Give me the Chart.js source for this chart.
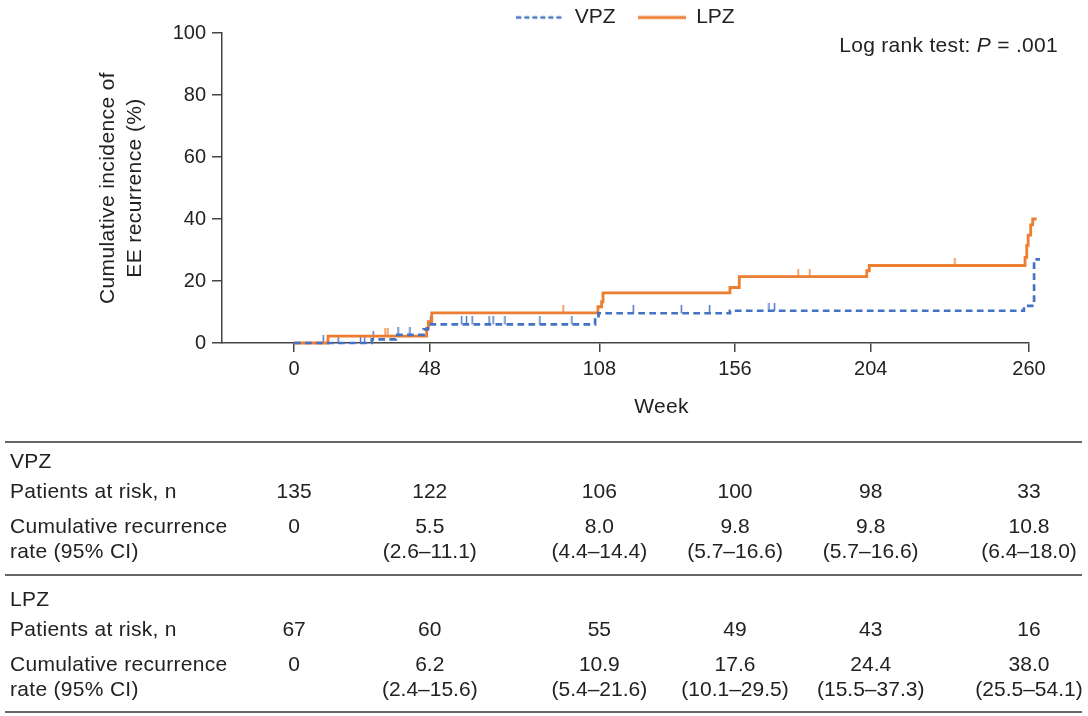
<!DOCTYPE html>
<html>
<head>
<meta charset="utf-8">
<script src="https://cdn.jsdelivr.net/npm/chart.js@4.4.1/dist/chart.umd.min.js"></script>
<style>
  html, body { margin: 0; padding: 0; background: #fff; }
  #wrap { width: 1088px; height: 716px; }
</style>
</head>
<body>
<div id="wrap"><canvas id="km" width="1088" height="716"></canvas></div>
<script>
// Week ticks on the x axis, also the columns of the risk table
const weekTicks = [0, 48, 108, 156, 204, 260];

// Kaplan-Meier steps (week of event, cumulative incidence % after it)
const vpzWeeks = [0, 27.5, 36, 45.8, 47.3, 106.5, 107.7, 154.2, 258.2, 261.8, 263.9];
const vpzRates = [0, 1.2, 2.6, 4.4, 6.0, 8.0, 9.6, 10.4, 12.0, 27.0, 27.0];
const lpzWeeks = [0, 12, 46.9, 47.5, 48.7, 107.5, 108.8, 109.3, 154.2, 157.5, 202.6, 203.5, 258.6, 259.2, 259.7, 260.6, 261.3, 262.7];
const lpzRates = [0, 2.2, 4.8, 6.9, 9.7, 11.7, 13.3, 16.2, 17.9, 21.4, 23.3, 25.0, 27.6, 31.5, 34.8, 38.1, 40.0, 40.0];

// Censored observations (weeks)
const vpzCensored = [10.3, 15.6, 23.5, 25, 28, 36.8, 41, 48.3, 59.3, 61, 63, 69, 70.4, 74.6, 87, 98.3, 120, 137, 147, 168, 170, 262.3, 263, 263.6];
const lpzCensored = [32.2, 33.2, 95.2, 178.3, 182.5, 233.8, 261.8, 262.4];

// Risk table
const vpzAtRisk = ['135', '122', '106', '100', '98', '33'];
const vpzRate = ['0', '5.5', '8.0', '9.8', '9.8', '10.8'];
const vpzCI = ['', '(2.6–11.1)', '(4.4–14.4)', '(5.7–16.6)', '(5.7–16.6)', '(6.4–18.0)'];
const lpzAtRisk = ['67', '60', '55', '49', '43', '16'];
const lpzRate = ['0', '6.2', '10.9', '17.6', '24.4', '38.0'];
const lpzCI = ['', '(2.4–15.6)', '(5.4–21.6)', '(10.1–29.5)', '(15.5–37.3)', '(25.5–54.1)'];

const BLUE = '#4472C4';
const ORANGE = '#ED7D31';
const TEXT = '#222222';
const FONT = '"Liberation Sans", Arial, Helvetica, sans-serif';

// value of a step curve at a given week
function rateAt(weeks, rates, w) {
    let r = rates[0];
    for (let i = 0; i < weeks.length; i++) {
        if (weeks[i] <= w) r = rates[i];
    }
    return r;
}

// small upward tick used as the censor marker
function censorMark(color) {
    const c = document.createElement('canvas');
    c.width = 3;
    c.height = 16;
    const g = c.getContext('2d');
    g.strokeStyle = color;
    g.lineWidth = 1.4;
    g.beginPath();
    g.moveTo(1.5, 0);
    g.lineTo(1.5, 8);
    g.stroke();
    return c;
}

// legend sample: a short line, dashed when the series is dashed
function legendLine(color, width, dashed) {
    const c = document.createElement('canvas');
    c.width = 48;
    c.height = 8;
    const g = c.getContext('2d');
    g.strokeStyle = color;
    g.lineWidth = width;
    g.setLineDash(dashed ? [5, 3] : []);
    g.beginPath();
    g.moveTo(0, 4);
    g.lineTo(48, 4);
    g.stroke();
    return c;
}

function toPoints(weeks, rates) {
    return weeks.map((w, i) => ({ x: w, y: rates[i] }));
}

// draws axis titles, the log rank note and the table under the plot
const extraText = {
    id: 'extraText',
    afterDraw(chart) {
        const ctx = chart.ctx;
        const xs = chart.scales.x;
        const area = chart.chartArea;
        ctx.save();
        ctx.fillStyle = TEXT;
        ctx.font = '21px ' + FONT;
        ctx.letterSpacing = '0.4px';

        // y title
        const midY = (area.top + area.bottom) / 2;
        ctx.textAlign = 'center';
        ctx.textBaseline = 'middle';
        ctx.save();
        ctx.translate(108, midY);
        ctx.rotate(-Math.PI / 2);
        ctx.fillText('Cumulative incidence of', 0, 0);
        ctx.restore();
        ctx.save();
        ctx.translate(135, midY);
        ctx.rotate(-Math.PI / 2);
        ctx.fillText('EE recurrence (%)', 0, 0);
        ctx.restore();

        ctx.letterSpacing = '0.3px';
        // x title
        ctx.fillText('Week', xs.getPixelForValue(130), 407);

        // log rank note
        const parts = [
            ['Log rank test: ', '21px ' + FONT],
            ['P', 'italic 21px ' + FONT],
            [' = .001', '21px ' + FONT]
        ];
        let total = 0;
        parts.forEach(p => { ctx.font = p[1]; total += ctx.measureText(p[0]).width; });
        let px = 1058 - total;
        ctx.textAlign = 'left';
        parts.forEach(p => {
            ctx.font = p[1];
            ctx.fillText(p[0], px, 46);
            px += ctx.measureText(p[0]).width;
        });

        // table
        ctx.font = '21px ' + FONT;
        ctx.strokeStyle = '#333';
        ctx.lineWidth = 1.3;
        [442, 575, 712].forEach(y => {
            ctx.beginPath();
            ctx.moveTo(5, y);
            ctx.lineTo(1082, y);
            ctx.stroke();
        });

        const blocks = [
            { name: 'VPZ', top: 462, risk: vpzAtRisk, rate: vpzRate, ci: vpzCI },
            { name: 'LPZ', top: 600, risk: lpzAtRisk, rate: lpzRate, ci: lpzCI }
        ];
        blocks.forEach(b => {
            ctx.textAlign = 'left';
            ctx.letterSpacing = '0.3px';
            ctx.fillText(b.name, 10, b.top);
            ctx.fillText('Patients at risk, n', 10, b.top + 30);
            ctx.fillText('Cumulative recurrence', 10, b.top + 65);
            ctx.fillText('rate (95% CI)', 10, b.top + 90);
            ctx.textAlign = 'center';
            ctx.letterSpacing = '0px';
            weekTicks.forEach((w, i) => {
                const cx = xs.getPixelForValue(w);
                ctx.fillText(b.risk[i], cx, b.top + 30);
                ctx.fillText(b.rate[i], cx, b.top + 65);
                if (b.ci[i]) ctx.fillText(b.ci[i], cx, b.top + 90);
            });
        });
        ctx.restore();
    }
};

const ctx = document.getElementById('km').getContext('2d');
new Chart(ctx, {
    type: 'line',
    data: {
        datasets: [
            {
                label: 'VPZ',
                data: toPoints(vpzWeeks, vpzRates),
                borderColor: BLUE,
                backgroundColor: BLUE,
                borderWidth: 2.7,
                borderDash: [6.7, 4.3],
                stepped: 'before',
                pointRadius: 0,
                fill: false,
                clip: false
            },
            {
                label: 'LPZ',
                data: toPoints(lpzWeeks, lpzRates),
                borderColor: ORANGE,
                backgroundColor: ORANGE,
                borderWidth: 2.8,
                stepped: 'before',
                pointRadius: 0,
                fill: false,
                clip: false
            },
            {
                label: 'VPZ censored',
                type: 'scatter',
                data: vpzCensored.map(w => ({ x: w, y: rateAt(vpzWeeks, vpzRates, w) })),
                pointStyle: censorMark(BLUE),
                pointRadius: 4,
                clip: false
            },
            {
                label: 'LPZ censored',
                type: 'scatter',
                data: lpzCensored.map(w => ({ x: w, y: rateAt(lpzWeeks, lpzRates, w) })),
                pointStyle: censorMark(ORANGE),
                pointRadius: 4,
                clip: false
            }
        ]
    },
    options: {
        responsive: false,
        animation: false,
        events: [],
        layout: {
            padding: { top: -15, right: 59, bottom: 0, left: 0 }
        },
        scales: {
            x: {
                type: 'linear',
                bounds: 'data',
                // range set here (not via min/max) so the curve ends past week 260 still draw
                afterDataLimits: scale => {
                    scale.min = -25.5;
                    scale.max = 260;
                },
                afterBuildTicks: scale => {
                    scale.ticks = weekTicks.map(v => ({ value: v }));
                },
                afterFit: scale => { scale.height = 373; },
                ticks: {
                    autoSkip: false,
                    maxRotation: 0,
                    padding: 5,
                    color: TEXT,
                    font: { size: 20, family: FONT }
                },
                grid: {
                    drawOnChartArea: false,
                    tickLength: 9,
                    color: '#444',
                    lineWidth: 1.5
                },
                border: { color: '#444', width: 1.5 }
            },
            y: {
                min: 0,
                max: 100,
                afterFit: scale => { scale.width = 222; },
                ticks: {
                    stepSize: 20,
                    padding: 6,
                    color: TEXT,
                    font: { size: 20, family: FONT }
                },
                grid: {
                    drawOnChartArea: false,
                    tickLength: 10,
                    color: '#444',
                    lineWidth: 1.5
                },
                border: { color: '#444', width: 1.5 }
            }
        },
        plugins: {
            legend: {
                position: 'top',
                fullSize: false,
                maxHeight: 48,
                labels: {
                    usePointStyle: true,
                    pointStyleWidth: 48,
                    padding: 22,
                    color: TEXT,
                    font: { size: 21, family: FONT },
                    generateLabels: chart => Chart.defaults.plugins.legend.labels.generateLabels(chart)
                        .filter(item => item.datasetIndex < 2)
                        .map(item => {
                            const ds = chart.data.datasets[item.datasetIndex];
                            item.pointStyle = legendLine(ds.borderColor, ds.borderWidth, !!ds.borderDash);
                            return item;
                        })
                }
            },
            tooltip: { enabled: false }
        }
    },
    plugins: [extraText]
});
</script>
</body>
</html>
